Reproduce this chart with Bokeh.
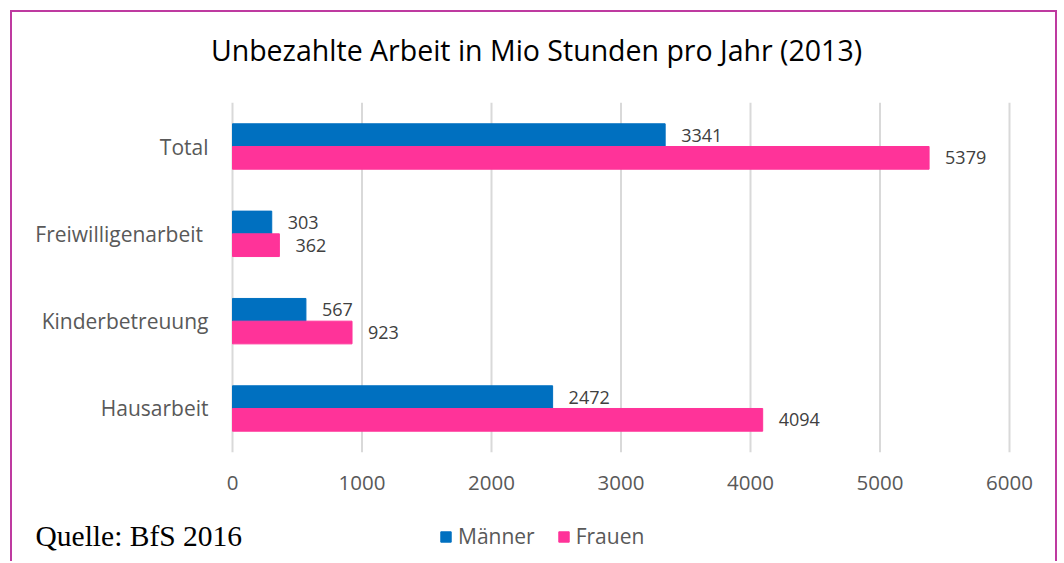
from bokeh.plotting import figure
from bokeh.models import (ColumnDataSource, Legend, LegendItem, FixedTicker, Label, Range1d)
from bokeh.transform import dodge
from bokeh.core.properties import value
from bokeh.embed import file_html
from bokeh.resources import INLINE

categories = ["Hausarbeit", "Kinderbetreuung", "Freiwilligenarbeit ", "Total"]
maenner = [2472, 567, 303, 3341]
frauen = [4094, 923, 362, 5379]
x_ticks = [0, 1000, 2000, 3000, 4000, 5000, 6000]
title_text = "Unbezahlte Arbeit in Mio Stunden pro Jahr (2013)"
source_text = "Quelle: BfS 2016"

BLUE = "#0070C0"
PINK = "#FF3399"
FONT = "Open Sans"

pos = list(range(len(categories)))
src = ColumnDataSource(dict(pos=pos, cat=categories, m=maenner, f=frauen,
                            ml=[str(v) for v in maenner], fl=[str(v) for v in frauen]))
grid_src = ColumnDataSource(dict(t=x_ticks))

W, H = 1047, 551
# frame covers the whole canvas; scales chosen so the value axis runs 0..6000
# between canvas pixels 220 and 997, and categories are 87.33 px apart
px_per_x = 777 / 6000
px_per_cat = 87.33
x_start = -220 / px_per_x
x_end = x_start + W / px_per_x
y_end = 3 + 134 / px_per_cat
y_start = y_end - H / px_per_cat

p = figure(width=W, height=H, x_range=Range1d(x_start, x_end), y_range=Range1d(y_start, y_end),
           output_backend="svg", toolbar_location=None,
           min_border_left=0, min_border_right=0, min_border_top=0, min_border_bottom=0)
p.margin = (10, 0, 0, 10)
p.styles = {"border-top": "2px solid #BE3AA0", "border-left": "2px solid #BE3AA0",
            "border-right": "2px solid #BE3AA0"}
p.outline_line_color = None
p.background_fill_color = "white"
p.border_fill_color = "white"
p.xgrid.visible = False
p.ygrid.visible = False

# vertical grid lines at the value ticks, spanning the category band
p.segment(x0="t", x1="t", y0=-0.5, y1=3.5, source=grid_src,
          line_color="#d9d9d9", line_width=2)

bh = 0.26
rm = p.hbar(y=dodge("pos", bh / 2), right="m", left=0, height=bh, color=BLUE, source=src)
rf = p.hbar(y=dodge("pos", -bh / 2), right="f", left=0, height=bh, color=PINK, source=src)

common = dict(text_font=value(FONT), text_font_size="18px", text_color="#404040",
              text_baseline="middle", text_align="left", x_offset=16, source=src)
p.text(x="m", y=dodge("pos", bh / 2), text="ml", **common)
p.text(x="f", y=dodge("pos", -bh / 2), text="fl", **common)

xa = p.xaxis[0]
xa.fixed_location = -0.5
xa.ticker = FixedTicker(ticks=x_ticks)
xa.axis_line_color = None
xa.major_tick_line_color = None
xa.minor_tick_line_color = None
xa.major_label_text_font = FONT
xa.major_label_text_font_size = "20.5px"
xa.major_label_text_color = "#595959"
xa.major_label_standoff = 18

ya = p.yaxis[0]
ya.fixed_location = 0
ya.ticker = FixedTicker(ticks=pos)
ya.major_label_overrides = {i: c for i, c in zip(pos, categories)}
ya.axis_line_color = None
ya.major_tick_line_color = None
ya.minor_tick_line_color = None
ya.major_label_text_font = FONT
ya.major_label_text_font_size = "21px"
ya.major_label_text_color = "#595959"
ya.major_label_standoff = 18

p.add_layout(Label(x=524, y=H - 37, x_units="screen", y_units="screen", text=title_text,
                   text_font=FONT, text_font_size="28.5px", text_color="black",
                   text_align="center", text_baseline="middle"))
p.add_layout(Label(x=23, y=28, x_units="screen", y_units="screen", text=source_text,
                   text_font="Liberation Serif", text_font_size="29.5px", text_color="black",
                   text_align="left", text_baseline="alphabetic"))

legend = Legend(items=[LegendItem(label="Männer", renderers=[rm]),
                       LegendItem(label="Frauen", renderers=[rf])],
                orientation="horizontal", location=(427, 13),
                label_text_font=FONT, label_text_font_size="21px",
                label_text_color="#595959", glyph_width=13, glyph_height=13,
                label_standoff=6, spacing=22, padding=0, margin=0,
                border_line_color=None, background_fill_alpha=0)
p.add_layout(legend, "center")

open("out.html", "w").write(file_html(p, INLINE))
